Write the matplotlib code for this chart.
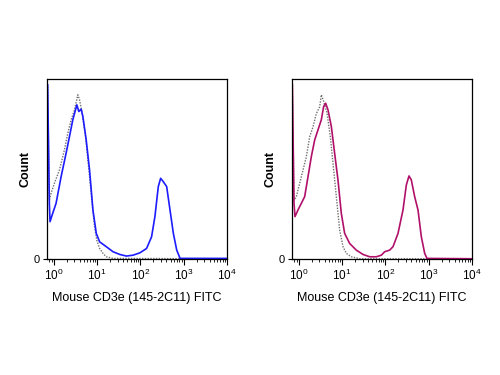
import numpy as np
import matplotlib
matplotlib.use("Agg")
import matplotlib.pyplot as plt
from matplotlib.ticker import LogLocator, NullFormatter, FixedLocator

plt.rcParams['font.family'] = ['Liberation Sans', 'DejaVu Sans']
plt.rcParams['mathtext.fontset'] = 'custom'
plt.rcParams['mathtext.rm'] = 'Liberation Sans'
plt.rcParams['mathtext.it'] = 'Liberation Sans'

# log10 of fluorescence, and count as % of max
left_stain_logx = [-0.135, -0.096, -0.080, -0.019, 0.059, 0.175, 0.290, 0.368, 0.445, 0.507,
                   0.538, 0.584, 0.638, 0.677, 0.754, 0.831, 0.909, 0.986, 1.063, 1.218,
                   1.372, 1.527, 1.681, 1.836, 1.991, 2.145, 2.261, 2.338, 2.416, 2.470,
                   2.532, 2.609, 2.686, 2.763, 2.841, 2.918, 4.0]
left_stain_y = [96.8, 31.0, 20.8, 25.4, 31.0, 45.8, 58.8, 68.1, 77.4, 82.9,
                85.7, 82.0, 83.3, 79.2, 66.2, 49.5, 27.3, 14.3, 9.6, 6.9,
                4.1, 2.6, 1.7, 2.2, 3.5, 5.9, 12.4, 23.6, 40.3, 44.9,
                43.0, 40.3, 27.3, 14.3, 5.0, 0.4, 0.4]

left_iso_logx = [-0.135, -0.096, -0.057, 0.020, 0.136, 0.252, 0.329, 0.406, 0.484, 0.561,
                 0.600, 0.661, 0.739, 0.816, 0.893, 0.947, 1.001, 1.063, 1.141, 1.218,
                 1.372, 4.0]
left_iso_y = [95.9, 32.8, 36.5, 42.1, 49.5, 60.7, 69.9, 77.4, 82.9, 91.3,
              88.5, 81.1, 68.1, 49.5, 30.6, 18.0, 10.2, 5.9, 3.2, 1.3,
              0.4, 0.2]

right_stain_logx = [-0.142, -0.104, -0.081, -0.012, 0.065, 0.142, 0.219, 0.296, 0.373, 0.449,
                    0.526, 0.580, 0.626, 0.680, 0.757, 0.833, 0.910, 0.987, 1.064, 1.179,
                    1.333, 1.487, 1.641, 1.794, 1.910, 1.986, 2.102, 2.179, 2.294, 2.409,
                    2.486, 2.547, 2.601, 2.678, 2.755, 2.832, 2.909, 2.962, 4.0]
right_stain_y = [96.8, 31.0, 23.6, 27.3, 31.0, 34.7, 45.8, 57.0, 66.2, 71.8,
                 77.4, 84.8, 86.6, 82.9, 73.7, 58.8, 44.0, 25.4, 14.3, 8.7,
                 5.0, 2.6, 1.3, 1.3, 2.2, 4.1, 5.0, 6.9, 14.3, 27.3,
                 41.2, 46.2, 44.0, 34.7, 27.3, 12.4, 3.2, 0.4, 0.2]

right_iso_logx = [-0.142, -0.104, -0.050, 0.027, 0.104, 0.180, 0.257, 0.334, 0.411, 0.488,
                  0.526, 0.580, 0.657, 0.734, 0.811, 0.887, 0.949, 1.026, 1.103, 1.218,
                  1.410, 4.0]
right_iso_y = [96.8, 32.8, 34.7, 42.1, 49.5, 56.8, 68.0, 73.5, 80.9, 84.6,
               91.3, 87.6, 81.1, 68.0, 49.5, 31.0, 16.1, 6.9, 3.2, 1.3,
               0.2, 0.2]

xlabel = "Mouse CD3e (145-2C11) FITC"
decades = [1, 10, 100, 1000, 10000]
decade_labels = ['$10^{0}$', '$10^{1}$', '$10^{2}$', '$10^{3}$', '$10^{4}$']

fig = plt.figure(figsize=(5, 3.75), dpi=100)
ax1 = fig.add_axes([0.094, 0.309, 0.36, 0.48])
ax2 = fig.add_axes([0.584, 0.309, 0.36, 0.48])

panels = [
    (ax1, left_stain_logx, left_stain_y, left_iso_logx, left_iso_y, '#1c1cff'),
    (ax2, right_stain_logx, right_stain_y, right_iso_logx, right_iso_y, '#b0106a'),
]

for ax, sx, sy, ix, iy, col in panels:
    ax.plot(10 ** np.array(ix), iy, color='#707070', lw=1.0, ls=(0, (1, 1)))
    ax.plot(10 ** np.array(sx), sy, color=col, lw=1.2)
    ax.set_xscale('log')
    ax.set_xlim(10 ** -0.15, 1e4)
    ax.set_ylim(0, 100)
    ax.xaxis.set_major_locator(FixedLocator(decades))
    ax.set_xticklabels(decade_labels, fontsize=8.5)
    ax.xaxis.set_minor_locator(LogLocator(base=10, subs=np.arange(2, 10), numticks=20))
    ax.xaxis.set_minor_formatter(NullFormatter())
    ax.tick_params(axis='x', which='major', direction='out', length=4, width=0.8, pad=2)
    ax.tick_params(axis='x', which='minor', direction='out', length=2, width=0.6)
    ax.set_yticks([0])
    ax.set_yticklabels(['0'], fontsize=8)
    ax.tick_params(axis='y', direction='inout', length=6, width=0.8, pad=2)
    for s in ax.spines.values():
        s.set_linewidth(0.9)
    ax.set_xlabel(xlabel, fontsize=9, labelpad=7)
    ax.set_ylabel('Count', fontsize=9, fontweight='bold', labelpad=2)

plt.savefig('out.png', dpi=100)
